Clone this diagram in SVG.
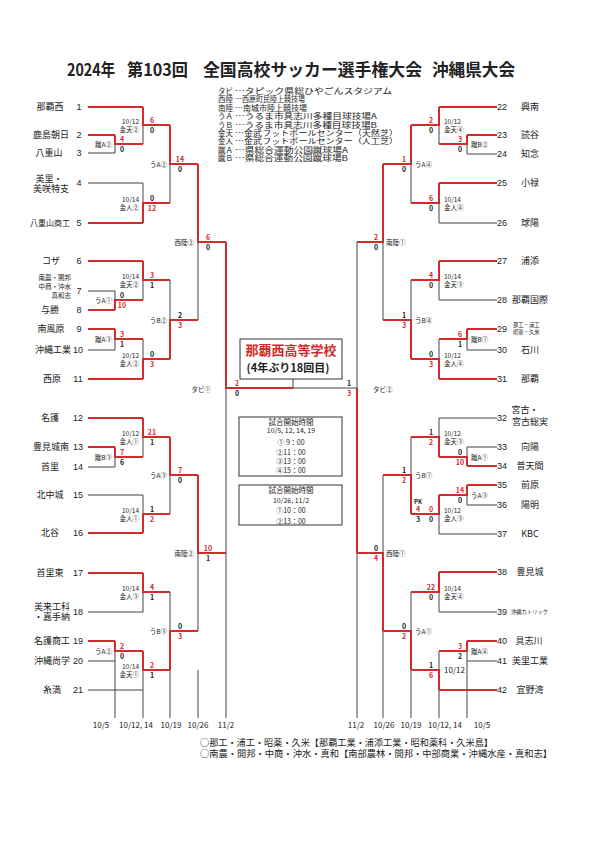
<svg xmlns="http://www.w3.org/2000/svg" width="595" height="841" viewBox="0 0 595 841">
<style>
text{font-family:"Noto Sans CJK JP","Liberation Sans",sans-serif;fill:#222}
.r{stroke:#d22b2b;stroke-width:2;fill:none}
.k{stroke:#444;stroke-width:1;fill:none}
.ttl{font-size:17px;font-weight:bold}
.lg{font-size:7.5px}
.nm{font-size:9px;text-anchor:middle}
.no{font-size:9px;text-anchor:middle;font-family:"Liberation Sans",sans-serif}
.sc{font-size:7px;font-weight:bold;text-anchor:middle;font-family:"Liberation Sans",sans-serif}
.sr{fill:#d22b2b}
.lb{font-size:6.5px}
.le{text-anchor:end}
.dt{font-size:8px;text-anchor:middle;font-family:"Liberation Sans",sans-serif}
.bx{fill:#fff;stroke:#333;stroke-width:1}
.tm{font-size:7px;text-anchor:middle}
.ft{font-size:9px}
</style>
<rect width="595" height="841" fill="#fff"/>
<g id="title">
<text class="ttl" x="67" y="76" textLength="48" lengthAdjust="spacingAndGlyphs">2024年</text>
<text class="ttl" x="127" y="76" textLength="61" lengthAdjust="spacingAndGlyphs">第103回</text>
<text class="ttl" x="203" y="76" textLength="219" lengthAdjust="spacingAndGlyphs">全国高校サッカー選手権大会</text>
<text class="ttl" x="432" y="76" textLength="83" lengthAdjust="spacingAndGlyphs">沖縄県大会</text>
</g>
<g id="legend" class="lg">
<text x="218" y="94" textLength="15" lengthAdjust="spacingAndGlyphs">タビ</text><text x="235" y="94" textLength="157" lengthAdjust="spacingAndGlyphs">…タピック県総ひやごんスタジアム</text>
<text x="218" y="102.4" textLength="15" lengthAdjust="spacingAndGlyphs">西陸</text><text x="235" y="102.4" textLength="70" lengthAdjust="spacingAndGlyphs">…西原町民陸上競技場</text>
<text x="218" y="110.8" textLength="15" lengthAdjust="spacingAndGlyphs">南陸</text><text x="235" y="110.8" textLength="72" lengthAdjust="spacingAndGlyphs">…南城市陸上競技場</text>
<text x="218" y="119.2" textLength="15" lengthAdjust="spacingAndGlyphs">うＡ</text><text x="235" y="119.2" textLength="142" lengthAdjust="spacingAndGlyphs">…うるま市具志川多種目球技場A</text>
<text x="218" y="127.6" textLength="15" lengthAdjust="spacingAndGlyphs">うＢ</text><text x="235" y="127.6" textLength="142" lengthAdjust="spacingAndGlyphs">…うるま市具志川多種目球技場B</text>
<text x="218" y="136" textLength="15" lengthAdjust="spacingAndGlyphs">金天</text><text x="235" y="136" textLength="163" lengthAdjust="spacingAndGlyphs">…金武フットボールセンター（天然芝）</text>
<text x="218" y="144.4" textLength="15" lengthAdjust="spacingAndGlyphs">金人</text><text x="235" y="144.4" textLength="163" lengthAdjust="spacingAndGlyphs">…金武フットボールセンター（人工芝）</text>
<text x="218" y="152.8" textLength="15" lengthAdjust="spacingAndGlyphs">蹴Ａ</text><text x="235" y="152.8" textLength="113" lengthAdjust="spacingAndGlyphs">…県総合運動公園蹴球場A</text>
<text x="218" y="161.2" textLength="15" lengthAdjust="spacingAndGlyphs">蹴Ｂ</text><text x="235" y="161.2" textLength="113" lengthAdjust="spacingAndGlyphs">…県総合運動公園蹴球場B</text>
</g>
<g id="connectors">
<path class="k" d="M88 153H115M88 183H143M88 291H115M88 350H115M88 467H115M88 495H143M88 612H143M88 661H115M88 690H143
M115 144V153M115 291V300M115 339V350M115 457V467M115 651V718
M143 125V144M143 183V203M143 280V300M143 339V359M143 437V457M143 495V514M143 592V612M143 670V718
M170 164V203M170 280V320M170 475V514M170 592V631M170 670V718
M198 242V320M198 553V631M198 670V718
M226 388V718M293 388H357M293 379V388
M497 154H467M497 223H439M497 300H439M497 350H467M497 418H439M497 447H467M497 505H467M497 534H439M497 612H439M497 661H467
M467 144V154M467 339V350M467 447V457M467 495V505M467 651V718
M439 125V144M439 203V223M439 280V300M439 339V359M439 418V437M439 514V534M439 592V612M439 651V670M439 690V718
M411 164V203M411 280V320M411 437V475M411 592V631M411 670V718
M383 242V320M383 475V553M383 631V718
M357 242V388M357 553V718"/>
<path class="r" d="M88 107H143M88 135H115M88 223H143M88 261H143M88 310H115M88 329H115M88 379H143M88 418H143M88 447H115M88 533H143M88 573H143M88 641H115
M115 135V144H143M115 310V300H143M115 329V339H143M115 447V457H143M115 641V651H143
M143 107V125H170M143 223V203H170M143 261V280H170M143 379V359H170M143 418V437H170M143 533V514H170M143 573V592H170M143 651V670H170
M170 125V164H198M170 359V320H198M170 437V475H198M170 670V631H198
M198 164V242H226M198 475V553H226
M226 242V388H293
M497 107H439M497 135H467M497 183H439M497 261H439M497 329H467M497 379H439M497 466H467M497 485H467M497 572H439M497 641H467M497 690H439
M467 135V144H439M467 329V339H439M467 466V457H439M467 485V495H439M467 641V651H439
M439 107V125H411M439 183V203H411M439 261V280H411M439 379V359H411M439 457V437H411M439 495V514H411M439 572V592H411M439 690V670H411
M411 125V164H383M411 359V320H383M411 514V475H383M411 670V631H383
M383 164V242H357M383 631V553H357
M357 553V388"/>
</g>
<g id="teams-left">
<g id="t1"><text class="nm" x="50" y="110">那覇西</text><text class="no" x="79" y="110">1</text></g>
<g id="t2"><text class="nm" x="51" y="138">鹿島朝日</text><text class="no" x="79" y="138">2</text></g>
<g id="t3"><text class="nm" x="49" y="156">八重山</text><text class="no" x="79" y="156">3</text></g>
<g id="t4"><text class="nm" x="49" y="182">美里・</text><text class="nm" x="51" y="192">美咲特支</text><text class="no" x="79" y="186">4</text></g>
<g id="t5"><text class="nm" x="50" y="226" style="font-size:8px">八重山商工</text><text class="no" x="79" y="226">5</text></g>
<g id="t6"><text class="nm" x="51" y="264">コザ</text><text class="no" x="79" y="264">6</text></g>
<g id="t7"><text class="lb le" x="71" y="280">南農・開邦</text><text class="lb le" x="71" y="289">中商・沖水</text><text class="lb le" x="71" y="298">真和志</text><text class="no" x="79" y="294">7</text></g>
<g id="t8"><text class="nm" x="50" y="313">与勝</text><text class="no" x="79" y="313">8</text></g>
<g id="t9"><text class="nm" x="51" y="332">南風原</text><text class="no" x="79" y="332">9</text></g>
<g id="t10"><text class="nm" x="53" y="353">沖縄工業</text><text class="no" x="78" y="353">10</text></g>
<g id="t11"><text class="nm" x="52" y="382">西原</text><text class="no" x="78" y="382">11</text></g>
<g id="t12"><text class="nm" x="50" y="421">名護</text><text class="no" x="78" y="421">12</text></g>
<g id="t13"><text class="nm" x="51" y="450">豊見城南</text><text class="no" x="78" y="450">13</text></g>
<g id="t14"><text class="nm" x="50" y="470">首里</text><text class="no" x="78" y="470">14</text></g>
<g id="t15"><text class="nm" x="50" y="498">北中城</text><text class="no" x="78" y="498">15</text></g>
<g id="t16"><text class="nm" x="50" y="536">北谷</text><text class="no" x="78" y="536">16</text></g>
<g id="t17"><text class="nm" x="50" y="576">首里東</text><text class="no" x="78" y="576">17</text></g>
<g id="t18"><text class="nm" x="52" y="610">美来工科</text><text class="nm" x="52" y="620">・嘉手納</text><text class="no" x="78" y="615">18</text></g>
<g id="t19"><text class="nm" x="52" y="644">名護商工</text><text class="no" x="78" y="644">19</text></g>
<g id="t20"><text class="nm" x="52" y="664">沖縄尚学</text><text class="no" x="78" y="664">20</text></g>
<g id="t21"><text class="nm" x="52" y="693">糸満</text><text class="no" x="78" y="693">21</text></g>
</g>
<g id="teams-right">
<g id="t22"><text class="no" x="502" y="110">22</text><text class="nm" x="530" y="110">興南</text></g>
<g id="t23"><text class="no" x="502" y="138">23</text><text class="nm" x="530" y="138">読谷</text></g>
<g id="t24"><text class="no" x="502" y="157">24</text><text class="nm" x="530" y="157">知念</text></g>
<g id="t25"><text class="no" x="502" y="186">25</text><text class="nm" x="530" y="186">小禄</text></g>
<g id="t26"><text class="no" x="502" y="226">26</text><text class="nm" x="530" y="226">球陽</text></g>
<g id="t27"><text class="no" x="502" y="264">27</text><text class="nm" x="530" y="264">浦添</text></g>
<g id="t28"><text class="no" x="502" y="303">28</text><text class="nm" x="530" y="303">那覇国際</text></g>
<g id="t29"><text class="no" x="502" y="332">29</text><text x="513" y="327" style="font-size:5.3px">那工・浦工</text><text x="513" y="334" style="font-size:5.3px">昭薬・久米</text></g>
<g id="t30"><text class="no" x="502" y="353">30</text><text class="nm" x="530" y="353">石川</text></g>
<g id="t31"><text class="no" x="502" y="382">31</text><text class="nm" x="530" y="382">那覇</text></g>
<g id="t32"><text class="no" x="502" y="421">32</text><text class="nm" x="525" y="413">宮古・</text><text class="nm" x="530" y="425">宮古総実</text></g>
<g id="t33"><text class="no" x="502" y="450">33</text><text class="nm" x="530" y="450">向陽</text></g>
<g id="t34"><text class="no" x="502" y="469">34</text><text class="nm" x="530" y="469">普天間</text></g>
<g id="t35"><text class="no" x="502" y="488">35</text><text class="nm" x="530" y="488">前原</text></g>
<g id="t36"><text class="no" x="502" y="508">36</text><text class="nm" x="530" y="508">陽明</text></g>
<g id="t37"><text class="no" x="502" y="537">37</text><text class="nm" x="530" y="537">KBC</text></g>
<g id="t38"><text class="no" x="502" y="575">38</text><text class="nm" x="530" y="575">豊見城</text></g>
<g id="t39"><text class="no" x="502" y="615">39</text><text x="511" y="614" style="font-size:5.3px">沖縄カトリック</text></g>
<g id="t40"><text class="no" x="502" y="644">40</text><text class="nm" x="529" y="644">具志川</text></g>
<g id="t41"><text class="no" x="502" y="664">41</text><text class="nm" x="530" y="664">美里工業</text></g>
<g id="t42"><text class="no" x="502" y="693">42</text><text class="nm" x="530" y="693">宜野湾</text></g>
</g>
<g id="match-labels" class="lb">
<text class="le" x="112" y="146.5">蹴A②</text>
<text class="le" x="112" y="302.5">うA①</text>
<text class="le" x="112" y="341.5">蹴A③</text>
<text class="le" x="112" y="459.5">蹴B③</text>
<text class="le" x="112" y="653.5">うA②</text>
<text class="le" x="139" y="123.5">10/12</text><text class="le" x="139" y="132">金天②</text>
<text class="le" x="139" y="201.5">10/14</text><text class="le" x="139" y="210">金人②</text>
<text class="le" x="139" y="278.5">10/14</text><text class="le" x="139" y="287">金天②</text>
<text class="le" x="139" y="357.5">10/12</text><text class="le" x="139" y="366">金人②</text>
<text class="le" x="139" y="435.5">10/12</text><text class="le" x="139" y="444">金人①</text>
<text class="le" x="139" y="512.5">10/14</text><text class="le" x="139" y="521">金人①</text>
<text class="le" x="139" y="590.5">10/14</text><text class="le" x="139" y="599">金人③</text>
<text class="le" x="139" y="668.5">10/14</text><text class="le" x="139" y="677">金天①</text>
<text class="le" x="167" y="167">うA②</text>
<text class="le" x="167" y="323">うB②</text>
<text class="le" x="167" y="478">うA③</text>
<text class="le" x="167" y="634">うB③</text>
<text class="le" x="194" y="245">西陸②</text>
<text class="le" x="194" y="556">南陸②</text>
<text class="le" x="211" y="391.5">タビ①</text>
<text x="471" y="146.5">蹴B②</text>
<text x="471" y="341.5">蹴B①</text>
<text x="471" y="459.5">蹴A①</text>
<text x="471" y="497.5">うA③</text>
<text x="471" y="653.5">蹴A④</text>
<text x="444" y="123.5">10/12</text><text x="444" y="132">金天④</text>
<text x="444" y="201.5">10/14</text><text x="444" y="210">金人④</text>
<text x="444" y="278.5">10/14</text><text x="444" y="287">金天③</text>
<text x="444" y="357.5">10/12</text><text x="444" y="366">金人④</text>
<text x="444" y="435.5">10/12</text><text x="444" y="444">金天③</text>
<text x="444" y="512.5">10/12</text><text x="444" y="521">金人③</text>
<text x="444" y="590.5">10/14</text><text x="444" y="599">金天④</text>
<text x="444" y="673" style="font-size:8px">10/12</text>
<text x="415" y="167">うA④</text>
<text x="415" y="323">うB④</text>
<text x="415" y="478">うB①</text>
<text x="415" y="634">うA①</text>
<text x="386" y="245">南陸①</text>
<text x="386" y="556">西陸①</text>
<text x="373" y="391.5">タビ②</text>
</g>
<g id="scores" class="sc">
<text class="sr" x="122" y="142">4</text><text x="122" y="152">0</text>
<text x="122" y="298">0</text><text class="sr" x="122" y="308">10</text>
<text class="sr" x="122" y="337">3</text><text x="122" y="347">1</text>
<text class="sr" x="122" y="455">7</text><text x="122" y="465">6</text>
<text class="sr" x="122" y="649">2</text><text x="122" y="659">0</text>
<text class="sr" x="152" y="123">6</text><text x="152" y="133">0</text>
<text x="152" y="201">0</text><text class="sr" x="152" y="211">12</text>
<text class="sr" x="152" y="278">3</text><text x="152" y="288">1</text>
<text x="152" y="357">0</text><text class="sr" x="152" y="367">3</text>
<text class="sr" x="152" y="435">21</text><text x="152" y="445">1</text>
<text x="152" y="512">1</text><text class="sr" x="152" y="522">2</text>
<text class="sr" x="152" y="590">4</text><text x="152" y="600">1</text>
<text class="sr" x="152" y="668">2</text><text x="152" y="678">1</text>
<text class="sr" x="180" y="162">14</text><text x="180" y="172">0</text>
<text x="180" y="318">2</text><text class="sr" x="180" y="328">3</text>
<text class="sr" x="180" y="473">7</text><text x="180" y="483">0</text>
<text x="180" y="629">0</text><text class="sr" x="180" y="639">3</text>
<text class="sr" x="208" y="240">6</text><text x="208" y="250">0</text>
<text class="sr" x="208" y="551">10</text><text x="208" y="561">1</text>
<text class="sr" x="237" y="386">2</text><text x="237" y="396">0</text>
<text class="sr" x="460" y="142">3</text><text x="460" y="152">0</text>
<text class="sr" x="460" y="337">6</text><text x="460" y="347">1</text>
<text x="460" y="455">0</text><text class="sr" x="460" y="465">10</text>
<text class="sr" x="460" y="493">14</text><text x="460" y="503">0</text>
<text class="sr" x="460" y="649">3</text><text x="460" y="659">2</text>
<text class="sr" x="431" y="123">2</text><text x="431" y="133">0</text>
<text class="sr" x="431" y="201">6</text><text x="431" y="211">0</text>
<text class="sr" x="431" y="278">4</text><text x="431" y="288">0</text>
<text x="431" y="357">0</text><text class="sr" x="431" y="367">3</text>
<text x="431" y="435">1</text><text class="sr" x="431" y="445">2</text>
<text class="sr" x="431" y="512">0</text><text x="431" y="522">0</text>
<text x="418" y="504" style="font-size:6px">PK</text>
<text class="sr" x="418" y="512">4</text><text x="418" y="522">3</text>
<text class="sr" x="431" y="590">22</text><text x="431" y="600">0</text>
<text x="431" y="668">1</text><text class="sr" x="431" y="678">6</text>
<text class="sr" x="404" y="162">1</text><text x="404" y="172">0</text>
<text x="404" y="318">1</text><text class="sr" x="404" y="328">3</text>
<text x="404" y="473">1</text><text class="sr" x="404" y="483">2</text>
<text x="404" y="629">0</text><text class="sr" x="404" y="639">2</text>
<text class="sr" x="376" y="240">2</text><text x="376" y="250">0</text>
<text x="376" y="551">0</text><text class="sr" x="376" y="561">4</text>
<text x="349" y="386">1</text><text class="sr" x="349" y="396">3</text>
</g>
<g id="champion">
<rect class="bx" x="240" y="339" width="102" height="40"/>
<text x="291" y="355" style="font-size:13px;font-weight:bold;fill:#d22b2b;text-anchor:middle">那覇西高等学校</text>
<text x="288" y="372" style="font-size:11px;font-weight:bold;text-anchor:middle">(4年ぶり18回目)</text>
</g>
<g id="times1">
<rect class="bx" x="239" y="417" width="103" height="59"/>
<text class="tm" x="291" y="424.5" style="font-size:7.5px">試合開始時間</text>
<text class="tm" x="291" y="433">10/5, 12, 14, 19</text>
<text class="tm" x="291" y="445">① 9：00</text>
<text class="tm" x="291" y="454.5">②11：00</text>
<text class="tm" x="291" y="464">③13：00</text>
<text class="tm" x="291" y="473">④15：00</text>
</g>
<g id="times2">
<rect class="bx" x="239" y="485" width="103" height="40"/>
<text class="tm" x="291" y="493" style="font-size:7.5px">試合開始時間</text>
<text class="tm" x="291" y="503">10/26, 11/2</text>
<text class="tm" x="291" y="513">①10：00</text>
<text class="tm" x="291" y="523.5">②13：00</text>
</g>
<g id="dates" class="dt">
<text x="101" y="728">10/5</text>
<text x="136" y="728">10/12, 14</text>
<text x="171" y="728">10/19</text>
<text x="198" y="728">10/26</text>
<text x="226" y="728">11/2</text>
<text x="356" y="728">11/2</text>
<text x="384" y="728">10/26</text>
<text x="411" y="728">10/19</text>
<text x="445" y="728">10/12, 14</text>
<text x="482" y="728">10/5</text>
</g>
<g id="notes" class="ft">
<text x="200" y="746" textLength="293" lengthAdjust="spacingAndGlyphs">○那工・浦工・昭薬・久米【那覇工業・浦添工業・昭和薬科・久米島】</text>
<text x="200" y="757" textLength="352" lengthAdjust="spacingAndGlyphs">○南農・開邦・中商・沖水・真和【南部農林・開邦・中部商業・沖縄水産・真和志】</text>
</g>
</svg>
